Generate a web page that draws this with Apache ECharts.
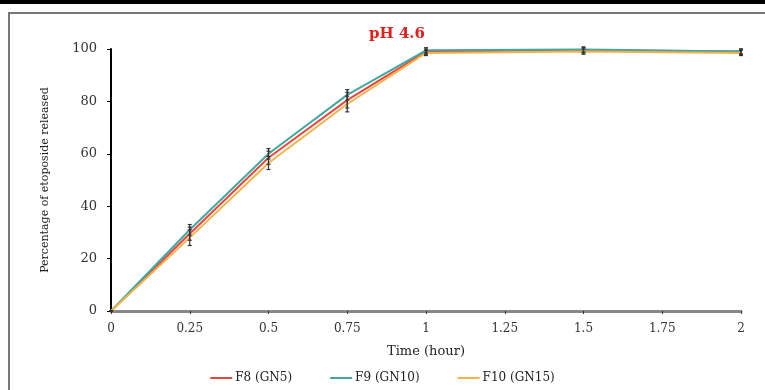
<!DOCTYPE html>
<html>
<head>
<meta charset="utf-8">
<script src="https://cdn.jsdelivr.net/npm/echarts@6/dist/echarts.min.js"></script>
<style>
  html, body { margin: 0; padding: 0; background: #fff; }
  #chart { width: 765px; height: 390px; }
</style>
</head>
<body>
<div id="chart"></div>
<script>
// time points (hour)
var times = [0, 0.25, 0.5, 0.75, 1, 1.5, 2];
// % etoposide released
var f8 = [0, 29.5, 58.5, 80.5, 99, 99.5, 99];
var f9 = [0, 31, 60, 82.5, 99.5, 99.8, 99];
var f10 = [0, 28, 56.5, 79, 98.5, 99, 98.5];
// standard deviations
var f8Err = [0, 2.5, 2.5, 3, 1, 1, 1];
var f9Err = [0, 2, 2, 2, 1, 1, 1];
var f10Err = [0, 3, 2.5, 3, 1, 1, 1];

var names = ['F8 (GN5)', 'F9 (GN10)', 'F10 (GN15)'];
var colors = ['#e8473f', '#3fa9a0', '#f6b24a'];
var font = '"DejaVu Serif", "Liberation Serif", serif';

function pairs(vals) {
  return times.map(function (t, i) { return [t, vals[i]]; });
}
function errData(vals, err) {
  return times.map(function (t, i) { return [t, vals[i] - err[i], vals[i] + err[i]]; });
}
function errSeries(vals, err) {
  return {
    type: 'custom',
    silent: true,
    z: 5,
    renderItem: function (params, api) {
      var lo = api.coord([api.value(0), api.value(1)]);
      var hi = api.coord([api.value(0), api.value(2)]);
      var w = 2;
      var st = { stroke: '#333', lineWidth: 1.2 };
      return {
        type: 'group',
        children: [
          { type: 'line', shape: { x1: lo[0], y1: lo[1], x2: hi[0], y2: hi[1] }, style: st },
          { type: 'line', shape: { x1: lo[0] - w, y1: lo[1], x2: lo[0] + w, y2: lo[1] }, style: st },
          { type: 'line', shape: { x1: hi[0] - w, y1: hi[1], x2: hi[0] + w, y2: hi[1] }, style: st }
        ]
      };
    },
    encode: { x: 0, y: [1, 2] },
    data: errData(vals, err)
  };
}
function lineSeries(name, vals, color) {
  return {
    name: name,
    type: 'line',
    data: pairs(vals),
    showSymbol: false,
    lineStyle: { color: color, width: 2 },
    itemStyle: { color: color },
    z: 3
  };
}

var chart = echarts.init(document.getElementById('chart'));
chart.setOption({
  animation: false,
  title: {
    text: 'pH 4.6',
    left: 392,
    top: 22,
    textAlign: 'center',
    textStyle: { color: '#e0201b', fontFamily: font, fontSize: 15, fontWeight: 'bold' }
  },
  graphic: [
    { type: 'rect', shape: { x: 0, y: 0, width: 765, height: 4 }, style: { fill: '#000' } },
    { type: 'rect', shape: { x: 9, y: 13, width: 780, height: 400 }, style: { fill: 'none', stroke: '#777', lineWidth: 2 } }
  ],
  legend: {
    bottom: 1,
    left: 'center',
    itemGap: 38,
    itemWidth: 22,
    itemHeight: 2,
    icon: 'rect',
    data: names,
    textStyle: { fontFamily: font, fontSize: 12, color: '#222', padding: [0, 0, 0, -2] }
  },
  grid: { left: 111, right: 24, top: 49, bottom: 79 },
  xAxis: {
    type: 'value',
    min: 0,
    max: 2,
    interval: 0.25,
    name: 'Time (hour)',
    nameLocation: 'middle',
    nameGap: 34,
    nameTextStyle: { fontFamily: font, fontSize: 13, color: '#222' },
    axisLine: { lineStyle: { color: '#888', width: 3 } },
    axisTick: { inside: false, length: 3, lineStyle: { color: '#333' } },
    axisLabel: { fontFamily: font, fontSize: 12, color: '#333', margin: 12 },
    splitLine: { show: false }
  },
  yAxis: {
    type: 'value',
    min: 0,
    max: 100,
    interval: 20,
    name: 'Percentage of etoposide released',
    nameLocation: 'middle',
    nameGap: 60,
    nameTextStyle: { fontFamily: font, fontSize: 11, color: '#222' },
    axisLine: { show: true, lineStyle: { color: '#000', width: 2 } },
    axisTick: { show: true, length: 4, lineStyle: { color: '#000' } },
    axisLabel: { fontFamily: font, fontSize: 13, color: '#333', margin: 14 },
    splitLine: { show: false }
  },
  series: [
    lineSeries(names[0], f8, colors[0]),
    lineSeries(names[1], f9, colors[1]),
    lineSeries(names[2], f10, colors[2]),
    errSeries(f8, f8Err),
    errSeries(f9, f9Err),
    errSeries(f10, f10Err)
  ]
});
</script>
</body>
</html>
